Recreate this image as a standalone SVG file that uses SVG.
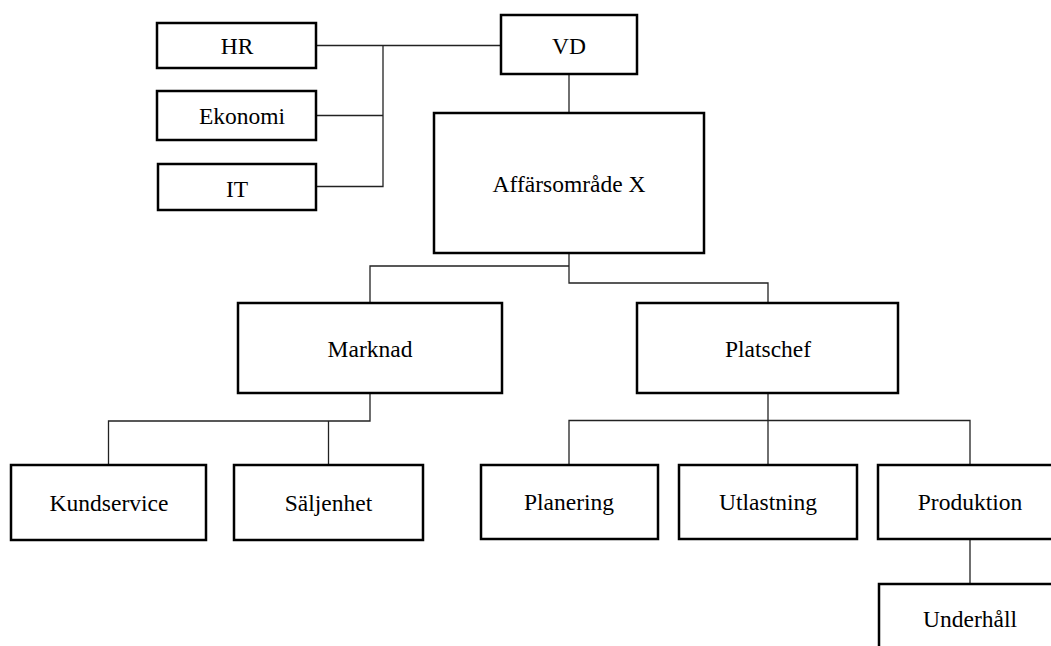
<svg xmlns="http://www.w3.org/2000/svg" width="1051" height="646" viewBox="0 0 1051 646">
<style>
.box{fill:#fff;stroke:#000;stroke-width:2.5}
.lbl{font-family:"Liberation Serif","Times New Roman",serif;font-size:23.5px;fill:#000;text-anchor:middle}
.con{fill:none;stroke:#222;stroke-width:1.3}
</style>
<rect width="1051" height="646" fill="#fff"/>
<g id="connectors">
<path class="con" d="M316,45.5 H501"/>
<path class="con" d="M383,45.5 V186.5 H316"/>
<path class="con" d="M316,115.5 H383"/>
<path class="con" d="M569,74 V113"/>
<path class="con" d="M569,253 V283 H768 V303"/>
<path class="con" d="M569,266 H370 V303"/>
<path class="con" d="M370,393 V421 H108.5 V465"/>
<path class="con" d="M328.5,421 V465"/>
<path class="con" d="M768,393 V465"/>
<path class="con" d="M569,465 V420.5 H970 V465"/>
<path class="con" d="M970,539 V584"/>
</g>
<g id="hr"><rect class="box" x="157" y="23" width="159" height="45"/><text class="lbl" x="237" y="54">HR</text></g>
<g id="ekonomi"><rect class="box" x="157" y="91" width="159" height="49"/><text class="lbl" x="242" y="124">Ekonomi</text></g>
<g id="it"><rect class="box" x="158" y="164" width="158" height="46"/><text class="lbl" x="237" y="197">IT</text></g>
<g id="vd"><rect class="box" x="501" y="15" width="136" height="59"/><text class="lbl" x="569" y="54">VD</text></g>
<g id="affarsomrade"><rect class="box" x="434" y="113" width="270" height="140"/><text class="lbl" x="569" y="192">Affärsområde X</text></g>
<g id="marknad"><rect class="box" x="238" y="303" width="264" height="90"/><text class="lbl" x="370" y="357">Marknad</text></g>
<g id="platschef"><rect class="box" x="637" y="303" width="261" height="90"/><text class="lbl" x="768" y="357">Platschef</text></g>
<g id="kundservice"><rect class="box" x="11" y="465" width="195" height="75"/><text class="lbl" x="109" y="511">Kundservice</text></g>
<g id="saljenhet"><rect class="box" x="234" y="465" width="189" height="75"/><text class="lbl" x="328.5" y="511">Säljenhet</text></g>
<g id="planering"><rect class="box" x="481" y="465" width="177" height="74"/><text class="lbl" x="569" y="510">Planering</text></g>
<g id="utlastning"><rect class="box" x="679" y="465" width="178" height="74"/><text class="lbl" x="768" y="510">Utlastning</text></g>
<g id="produktion"><rect class="box" x="878" y="465" width="184" height="74"/><text class="lbl" x="970" y="510">Produktion</text></g>
<g id="underhall"><rect class="box" x="879" y="584" width="184" height="80"/><text class="lbl" x="970" y="627">Underhåll</text></g>
</svg>
